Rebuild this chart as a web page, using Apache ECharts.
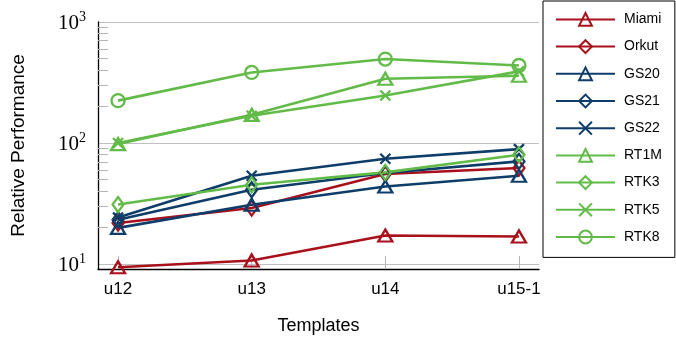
<!DOCTYPE html>
<html>
<head>
<meta charset="utf-8">
<script src="https://cdn.jsdelivr.net/npm/echarts@6/dist/echarts.min.js"></script>
<style>
  html, body { margin: 0; padding: 0; background: #fff; }
  #chart { width: 676px; height: 348px; }
</style>
</head>
<body>
<div id="chart"></div>
<script>
// data (relative performance, log scale)
const templates = ['u12', 'u13', 'u14', 'u15-1'];
const miami = [9.4, 10.7, 17.2, 16.9];
const orkut = [21.8, 29.0, 55.5, 62.1];
const gs20 = [19.9, 30.9, 43.7, 53.7];
const gs21 = [23.2, 41.1, 56.5, 70.5];
const gs22 = [24.2, 53.7, 74.1, 89.1];
const rt1m = [98, 171, 340, 360];
const rtk3 = [31, 45.2, 57.2, 80];
const rtk5 = [100, 168, 247, 391];
const rtk8 = [224, 383, 494, 437];
const yMajor = [10, 100, 1000];
const yMinor = [20, 30, 40, 50, 60, 70, 80, 90, 200, 300, 400, 500, 600, 700, 800, 900];

const RED = '#a8101c';
const NAVY = '#0e3d6a';
const GREEN = '#62bb48';
const SANS = '"Liberation Sans", Arial, sans-serif';
const SERIF = '"Liberation Serif", "DejaVu Serif", serif';

const TRI = ['triangle', [14, 12]];
const DIA = ['diamond', [11, 15]];
const CROSS = ['path://M0,0L10,10M10,0L0,10', [10, 10]];
const CIRC = ['circle', 13];

function line(name, values, color, mark) {
    return {
        name: name,
        type: 'line',
        data: values.map((v, i) => [i, Math.log10(v)]),
        symbol: mark[0],
        symbolSize: mark[1],
        showAllSymbol: true,
        lineStyle: { color: color, width: 2.6 },
        itemStyle: { color: 'rgba(0,0,0,0)', borderColor: color, borderWidth: 2.3 },
        emphasis: { disabled: true }
    };
}

const chart = echarts.init(document.getElementById('chart'));

chart.setOption({
    animation: false,
    grid: { left: 98, right: 137, top: 22, bottom: 79 },
    legend: {
        orient: 'vertical',
        left: 543,
        top: 1,
        itemWidth: 59,
        itemHeight: 16,
        itemGap: 12.4,
        padding: [11, 13, 13, 12],
        borderColor: '#000',
        borderWidth: 1,
        textStyle: { fontFamily: SANS, fontSize: 14, color: '#000', padding: [0, 0, 0, 4] },
        data: ['Miami', 'Orkut', 'GS20', 'GS21', 'GS22', 'RT1M', 'RTK3', 'RTK5', 'RTK8']
    },
    xAxis: {
        type: 'value',
        min: -0.15,
        max: 3.15,
        name: 'Templates',
        nameLocation: 'middle',
        nameGap: 48,
        nameTextStyle: { fontFamily: SANS, fontSize: 18, color: '#000' },
        axisLine: { onZero: false, lineStyle: { color: '#000', width: 1.3 } },
        axisTick: { customValues: [0, 1, 2, 3], inside: true, length: 13, lineStyle: { color: '#b5b5b5' } },
        axisLabel: {
            customValues: [0, 1, 2, 3],
            formatter: v => templates[Math.round(v)],
            fontFamily: SANS, fontSize: 17, color: '#000', margin: 12
        },
        splitLine: { show: false }
    },
    yAxis: [{
        type: 'value',
        min: 0.959,
        max: 3,
        name: 'Relative Performance',
        nameLocation: 'middle',
        nameGap: 70,
        nameTextStyle: { fontFamily: SANS, fontSize: 19, color: '#000' },
        axisLine: { show: true, onZero: false, lineStyle: { color: '#000', width: 1.3 } },
        axisTick: { show: false, customValues: yMajor.map(Math.log10) },
        axisLabel: {
            customValues: yMajor.map(Math.log10),
            formatter: v => '{b|10}{s|' + Math.round(v) + '}',
            margin: 12,
            rich: {
                b: { fontFamily: SERIF, fontSize: 21, color: '#000', verticalAlign: 'bottom' },
                s: { fontFamily: SERIF, fontSize: 14, color: '#000', verticalAlign: 'bottom', padding: [0, 0, 10, 0] }
            }
        },
        splitLine: { show: true, lineStyle: { color: '#c0c0c0', width: 1 } }
    }, {
        type: 'value',
        min: 0.959,
        max: 3,
        position: 'left',
        axisLine: { show: false, onZero: false },
        axisTick: { show: true, inside: true, length: 10, customValues: yMinor.map(Math.log10), lineStyle: { color: '#b5b5b5' } },
        axisLabel: { show: false },
        splitLine: { show: false }
    }],
    series: [
        line('Miami', miami, RED, TRI),
        line('Orkut', orkut, RED, DIA),
        line('GS20', gs20, NAVY, TRI),
        line('GS21', gs21, NAVY, DIA),
        line('GS22', gs22, NAVY, CROSS),
        line('RT1M', rt1m, GREEN, TRI),
        line('RTK3', rtk3, GREEN, DIA),
        line('RTK5', rtk5, GREEN, CROSS),
        line('RTK8', rtk8, GREEN, CIRC)
    ]
});
</script>
</body>
</html>
